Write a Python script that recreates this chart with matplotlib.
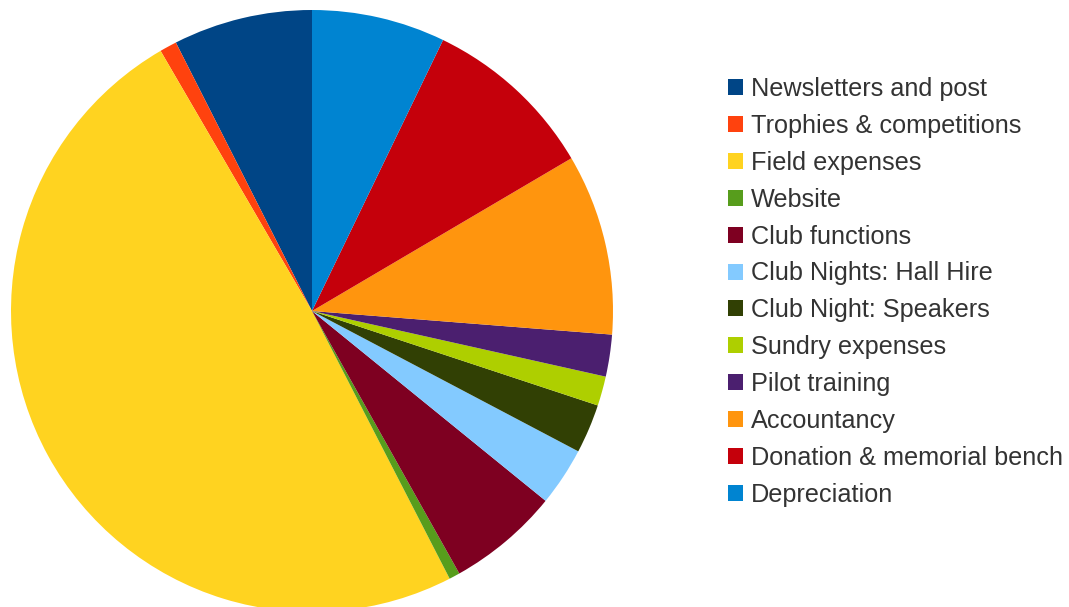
import matplotlib
matplotlib.use("Agg")
import matplotlib.pyplot as plt
from matplotlib.patches import Patch

labels = ["Newsletters and post", "Trophies & competitions", "Field expenses", "Website",
          "Club functions", "Club Nights: Hall Hire", "Club Night: Speakers",
          "Sundry expenses", "Pilot training", "Accountancy",
          "Donation & memorial bench", "Depreciation"]
values = [7.47, 0.92, 49.17, 0.58, 6.0, 3.14, 2.64, 1.58, 2.25, 9.72, 9.36, 7.17]
colors = ["#004586", "#ff420e", "#ffd320", "#579d1c", "#7e0021", "#83caff",
          "#314004", "#aecf00", "#4b1f6f", "#ff950e", "#c5000b", "#0084d1"]

plt.rcParams['font.family'] = ['Liberation Sans', 'DejaVu Sans']

W, H = 1069, 607
fig = plt.figure(figsize=(W / 100, H / 100), dpi=100)
cx, cy, r = 312, 311, 301
ax = fig.add_axes([(cx - r) / W, (H - cy - r) / H, 2 * r / W, 2 * r / H])
ax.pie(values, colors=colors, startangle=90, counterclock=True, radius=1,
       wedgeprops=dict(linewidth=0, antialiased=True))
ax.set_xlim(-1, 1)
ax.set_ylim(-1, 1)
ax.set_aspect('equal')
ax.axis('off')

handles = [Patch(facecolor=c, edgecolor='none') for c in colors]
fig.legend(handles, labels, loc='upper left',
           bbox_to_anchor=(728 / W, 1 - 77 / H), bbox_transform=fig.transFigure,
           frameon=False, fontsize=18.2, handlelength=0.6, handleheight=0.6,
           handletextpad=0.32, labelspacing=0.51, borderpad=0, borderaxespad=0,
           labelcolor='#333333')

fig.savefig("out.png", dpi=100)
